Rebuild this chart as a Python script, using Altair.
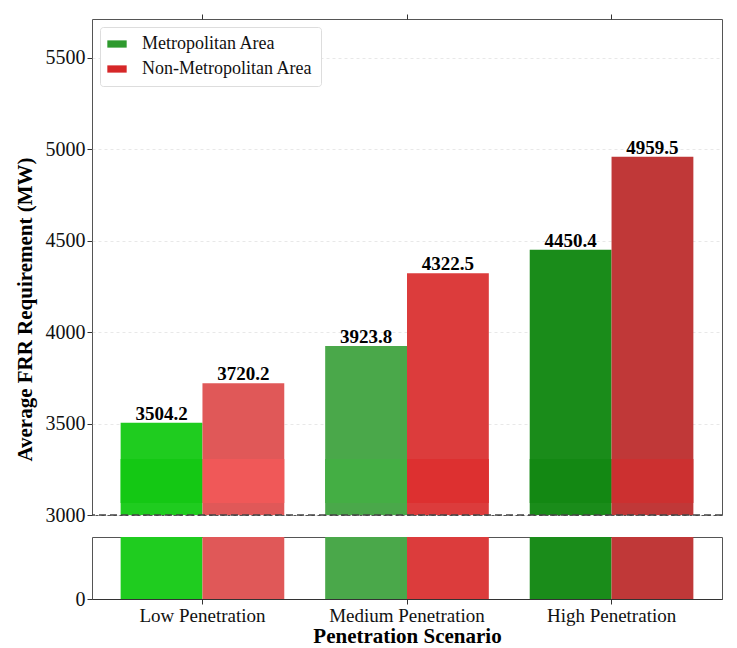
import pandas as pd
import altair as alt

scenarios = ["Low Penetration", "Medium Penetration", "High Penetration"]
areas = ["Metropolitan Area", "Non-Metropolitan Area"]
metro = [3504.2, 3923.8, 4450.4]
non_metro = [3720.2, 4322.5, 4959.5]
bar_colors = ["#1fcc1f", "#e05858", "#4aa84a", "#dc3c3c", "#1a8c1a", "#c03838"]
band_colors = ["#14c814", "#f05858", "#44ae44", "#dd3030", "#138813", "#cc3030"]
legend_colors = ["#2e9a2e", "#d62728"]

rows = []
i = 0
for s, m, n in zip(scenarios, metro, non_metro):
    for a, v in zip(areas, [m, n]):
        rows.append({"scenario": s, "area": a, "value": v, "base": 3000,
                     "label": f"{v:.1f}", "color": bar_colors[i], "band": band_colors[i],
                     "b0": 3066, "b1": 3306})
        i += 1
df = pd.DataFrame(rows)

FONT = "Liberation Serif"
xscale = alt.Scale(domain=scenarios, paddingInner=0.2, paddingOuter=0.14)
W = 630

top_base = alt.Chart(df).encode(
    x=alt.X("scenario:N", scale=xscale, sort=scenarios,
            axis=alt.Axis(orient="top", labels=False, title=None, domain=False,
                          tickColor="#333", tickSize=5)),
    xOffset=alt.XOffset("area:N", sort=areas),
)
yscale = alt.Scale(domain=[3000, 5713], nice=False)
bars = top_base.mark_bar(clip=True).encode(
    y=alt.Y("value:Q", scale=yscale,
            axis=alt.Axis(values=[3000, 3500, 4000, 4500, 5000, 5500], format="d",
                          title="Average FRR Requirement (MW)",
                          titleFontSize=21, titleFontWeight="bold", titleFont=FONT, titleY=290,
                          titlePadding=10, labelFontSize=20, labelFont=FONT, labelColor="#111",
                          grid=True, gridDash=[3, 3], gridColor="#e8e8e8", tickColor="#333", domain=False)),
    y2="base:Q",
    fill=alt.Fill("color:N", scale=None),
)
band = top_base.mark_bar().encode(y="b0:Q", y2="b1:Q", fill=alt.Fill("band:N", scale=None))
labels = top_base.mark_text(dy=-9, font=FONT, fontSize=19, fontWeight="bold", color="black").encode(
    y="value:Q", text="label:N")
legend = alt.Chart(df).mark_point(opacity=0, filled=True).encode(
    x=alt.X("scenario:N", scale=xscale, sort=scenarios),
    y=alt.Y("value:Q", scale=yscale),
    color=alt.Color("area:N", sort=areas, scale=alt.Scale(domain=areas, range=legend_colors),
                    legend=alt.Legend(orient="top-left", title=None, labelFont=FONT, labelFontSize=18,
                                      labelLimit=400, labelColor="#111",
                                      symbolType="M-1.2,-0.45H1.2V0.45H-1.2Z", symbolSize=260,
                                      symbolOpacity=1, strokeColor="#ddd", fillColor="white",
                                      padding=8, cornerRadius=3, rowPadding=7, labelOffset=16,
                                      offset=8)),
)
rule = alt.Chart(pd.DataFrame({"y": [3000]})).mark_rule(strokeDash=[7, 4], color="#444", strokeWidth=1.5).encode(
    y=alt.Y("y:Q", scale=yscale))
top = alt.layer(bars, band, labels, legend, rule).properties(width=W, height=496)

bottom = alt.Chart(df).mark_bar(clip=True).encode(
    x=alt.X("scenario:N", scale=xscale, sort=scenarios,
            axis=alt.Axis(title="Penetration Scenario", labelAngle=0, labelFont=FONT, labelFontSize=19,
                          labelColor="#111", titleFont=FONT, titleFontSize=21, titleFontWeight="bold",
                          titlePadding=0, domainColor="#333", tickColor="#333")),
    xOffset=alt.XOffset("area:N", sort=areas),
    y=alt.Y("base:Q", scale=alt.Scale(domain=[0, 300], nice=False),
            axis=alt.Axis(values=[0], title=None, labelFontSize=20, labelFont=FONT, labelColor="#111",
                          grid=False, tickColor="#333", domain=False)),
    y2=alt.datum(0),
    fill=alt.Fill("color:N", scale=None),
).properties(width=W, height=62)

chart = alt.vconcat(top, bottom, spacing=10).configure_view(stroke="#555")

chart.save("out.html", embed_options={"renderer": "svg", "actions": False})
